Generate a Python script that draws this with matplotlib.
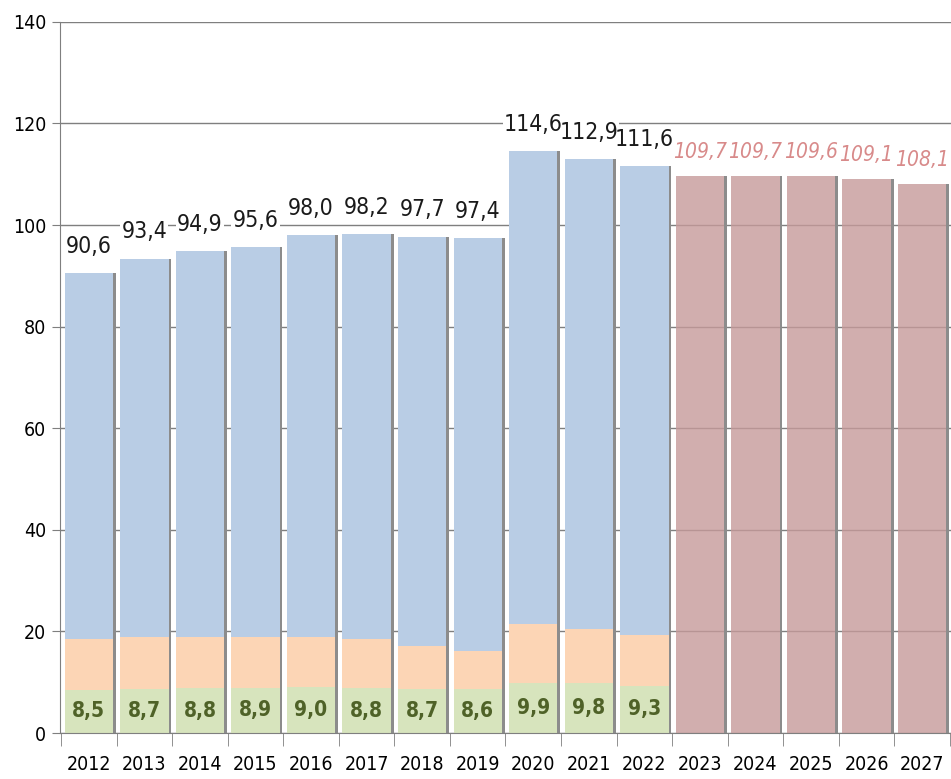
import matplotlib.pyplot as plt
import numpy as np
from matplotlib import font_manager

years = [str(y) for y in range(2012, 2028)]
hist_years = years[:11]
fc_years = years[11:]

green = [8.5, 8.7, 8.8, 8.9, 9.0, 8.8, 8.7, 8.6, 9.9, 9.8, 9.3]
orange = [10.0, 10.2, 10.1, 10.0, 9.9, 9.7, 8.4, 7.6, 11.6, 10.7, 10.0]
totals = [90.6, 93.4, 94.9, 95.6, 98.0, 98.2, 97.7, 97.4, 114.6, 112.9, 111.6]
forecast = [109.7, 109.7, 109.6, 109.1, 108.1]

blue = [t - g - o for t, g, o in zip(totals, green, orange)]

def fmt(v):
    return f"{v:.1f}".replace(".", ",")

# use a condensed face if one is installed, else plain Liberation Sans
cond = font_manager.findfont(
    font_manager.FontProperties(family="DejaVu Sans", stretch="condensed"))
if "Condensed" in cond:
    plt.rcParams["font.family"] = ["DejaVu Sans"]
    plt.rcParams["font.stretch"] = "condensed"
    big, small, tick = 16.5, 15, 14
else:
    plt.rcParams["font.family"] = ["Liberation Sans", "DejaVu Sans"]
    big, small, tick = 15.5, 14, 13

fig = plt.figure(figsize=(9.51, 7.79), dpi=100)
ax = fig.add_axes([0.063, 0.059, 0.937, 0.913])

x_hist = np.arange(len(hist_years))
x_fc = np.arange(len(hist_years), len(years))
w = 0.87

# thin drop shadows on the right edge of each bar
ax.bar(x_hist + w / 2, totals, width=0.05, align="edge", color="#8c8c8c", zorder=2)
ax.bar(x_fc + w / 2, forecast, width=0.05, align="edge", color="#8c8c8c", zorder=2)

ax.bar(x_hist, green, width=w, color="#d7e4bd", zorder=2)
ax.bar(x_hist, orange, width=w, bottom=green, color="#fcd5b5", zorder=2)
ax.bar(x_hist, blue, width=w, bottom=np.add(green, orange), color="#b9cde5", zorder=2)
ax.bar(x_fc, forecast, width=w, color="#c69a9a", alpha=0.8, zorder=2)

def label(x, y, s, **kw):
    # white patch under the label hides the gridline, text drawn above all patches
    ax.text(x, y, s, ha="center", va="bottom", color="white", zorder=4,
            bbox=dict(facecolor="white", edgecolor="none", pad=0.8),
            **{k: v for k, v in kw.items() if k != "color"})
    ax.text(x, y, s, ha="center", va="bottom", zorder=5, **kw)

for xi, t in zip(x_hist, totals):
    label(xi, t + 3.0, fmt(t), fontsize=big, color="#1a1a1a")
for xi, f in zip(x_fc, forecast):
    label(xi, f + 2.8, fmt(f), fontsize=small, style="italic", color="#d88a8a")
for xi, g in zip(x_hist, green):
    ax.text(xi, g / 2, fmt(g), ha="center", va="center", fontsize=small,
            fontweight="bold", color="#4f6228", zorder=5)

ax.set_xlim(-0.52, len(years) - 0.48)
ax.set_ylim(0, 140)
ax.set_yticks(range(0, 141, 20))
ax.set_axisbelow(True)
ax.yaxis.grid(True, color="#7f7f7f", linewidth=1.0)

ax.set_xticks(np.arange(len(years)))
ax.set_xticklabels(years, fontsize=tick)
ax.set_xticks(np.arange(-0.5, len(years), 1.0), minor=True)
ax.tick_params(axis="x", which="major", length=0, pad=16)
ax.tick_params(axis="x", which="minor", length=9, color="#7f7f7f", direction="out")
ax.tick_params(axis="y", length=6, color="#7f7f7f", labelsize=tick, pad=4)

for s in ["top", "right"]:
    ax.spines[s].set_visible(False)
ax.spines["left"].set_color("#7f7f7f")
ax.spines["bottom"].set_color("#7f7f7f")
ax.spines["bottom"].set_zorder(4)

plt.savefig("out.png", dpi=100)
